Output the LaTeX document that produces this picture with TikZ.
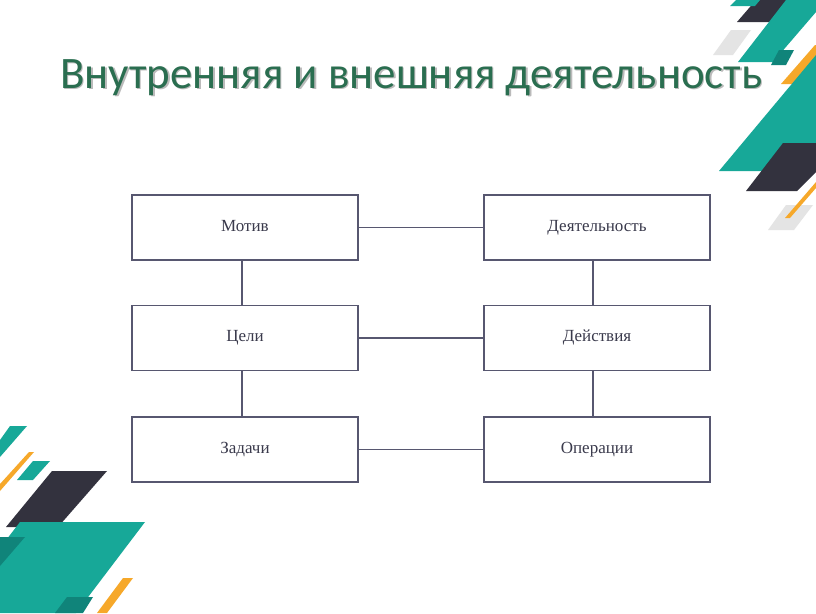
\documentclass[tikz,border=0pt]{standalone}
\usepackage{fontspec}
\setmainfont{Liberation Serif}
\newfontfamily\titlefont{Carlito}
\usetikzlibrary{calc}
\definecolor{tealA}{HTML}{17A898}
\definecolor{tealD}{HTML}{10847A}
\definecolor{darkS}{HTML}{33323E}
\definecolor{orangeS}{HTML}{F6A82A}
\definecolor{grayS}{HTML}{E4E4E4}
\definecolor{titleG}{HTML}{2A6E50}
\definecolor{boxC}{HTML}{575770}
\definecolor{txtC}{HTML}{3A3A4C}
\tikzset{
  stepbox/.style={draw=boxC, line width=1.8pt, fill=white, minimum width=226pt, minimum height=65pt, inner sep=0pt, font=\fontsize{17}{20}\selectfont, text=txtC},
  link/.style={draw=boxC, line width=1.8pt},
}
\begin{document}
\begin{tikzpicture}[x=1pt,y=-1pt]
\useasboundingbox (0,0) rectangle (816,613);
\fill[white] (0,0) rectangle (816,613);
% top-right decoration
\fill[grayS] (713,55) -- (731,30) -- (751,30) -- (733,55) -- cycle;
\fill[darkS] (737,22) -- (756,0) -- (795,0) -- (776,22) -- cycle;
\fill[tealA] (730,6) -- (736,0) -- (760,0) -- (755,6) -- cycle;
\fill[tealA] (738,62) -- (786,0) -- (816,0) -- (816,12) -- (773,62) -- cycle;
\fill[tealD] (771,65) -- (779,50) -- (794,50) -- (786,65) -- cycle;
\fill[orangeS] (781,84) -- (815,45) -- (816,45) -- (816,58) -- (793,84) -- cycle;
\fill[tealA] (719,171) -- (816,55) -- (816,171) -- cycle;
\fill[darkS] (746,191) -- (783,143) -- (816,143) -- (816,172) -- (797,191) -- cycle;
\fill[grayS] (768,230) -- (786,205) -- (813,205) -- (794,230) -- cycle;
\fill[orangeS] (785,218) -- (816,182) -- (816,188) -- (790,218) -- cycle;
% bottom-left decoration
\fill[tealA] (0,440) -- (10,426) -- (27,426) -- (0,457) -- cycle;
\fill[orangeS] (0,484) -- (29,452) -- (34,452) -- (0,491) -- cycle;
\fill[tealA] (17,480) -- (33,461) -- (50,461) -- (33,480) -- cycle;
\fill[darkS] (6,527) -- (52,471) -- (107,471) -- (58,527) -- cycle;
\fill[tealA] (20,522) -- (145,522) -- (76,613) -- (0,613) -- (0,548) -- cycle;
\fill[tealD] (0,537) -- (25,537) -- (0,566) -- cycle;
\fill[tealD] (55,613) -- (67,597) -- (93,597) -- (83,613) -- cycle;
\fill[orangeS] (97,613) -- (123,578) -- (133,578) -- (107,613) -- cycle;
% title
\node[anchor=base west, inner sep=0pt, text=black!45, opacity=0.6, font=\titlefont\fontsize{45}{50}\selectfont] (titleshadow) at (61.5,89.5) {Внутренняя и внешняя деятельность};
\node[anchor=base west, inner sep=0pt, text=titleG, font=\titlefont\fontsize{45}{50}\selectfont] (title) at (60,88) {Внутренняя и внешняя деятельность};
% boxes
\node[stepbox] (motiv) at (245,227.5) {\raisebox{4pt}{Мотив}};
\node[stepbox] (celi) at (245,338) {\raisebox{4pt}{Цели}};
\node[stepbox] (zadachi) at (245,449.5) {\raisebox{4pt}{Задачи}};
\node[stepbox] (deyat) at (597,227.5) {\raisebox{4pt}{Деятельность}};
\node[stepbox] (deystv) at (597,338) {\raisebox{4pt}{Действия}};
\node[stepbox] (oper) at (597,449.5) {\raisebox{4pt}{Операции}};
% connectors
\draw[link] (motiv.east) -- (deyat.west);
\draw[link] (celi.east) -- (deystv.west);
\draw[link] (zadachi.east) -- (oper.west);
\draw[link] ([xshift=-3pt]motiv.south) -- ([xshift=-3pt]celi.north);
\draw[link] ([xshift=-3pt]celi.south) -- ([xshift=-3pt]zadachi.north);
\draw[link] ([xshift=-4pt]deyat.south) -- ([xshift=-4pt]deystv.north);
\draw[link] ([xshift=-4pt]deystv.south) -- ([xshift=-4pt]oper.north);
\end{tikzpicture}
\end{document}
